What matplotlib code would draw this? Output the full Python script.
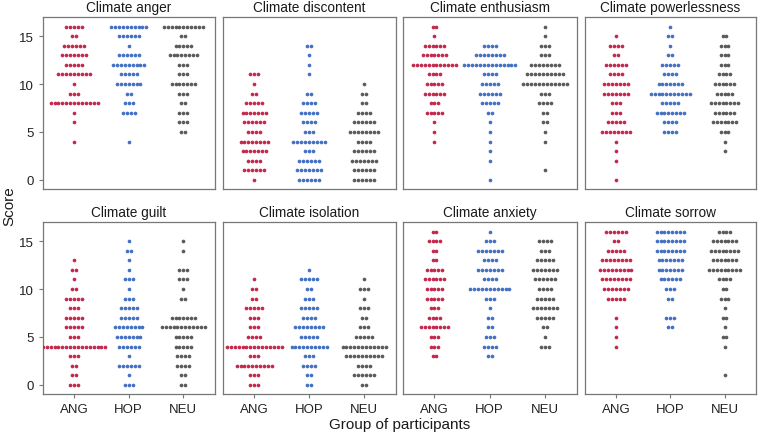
import numpy as np
import matplotlib
matplotlib.use("Agg")
import matplotlib.pyplot as plt

plt.rcParams["font.family"] = ["Liberation Sans", "DejaVu Sans"]

# groups and colours
groups = ["ANG", "HOP", "NEU"]
colors = ["#C3284D", "#4571C3", "#5B5B5B"]
scores = list(range(17))  # score 0..16

# number of participants at each score (index = score 0..16)
anger_ang = [0, 0, 0, 0, 1, 0, 1, 1, 13, 3, 1, 9, 5, 7, 6, 2, 5]
anger_hop = [0, 0, 0, 0, 1, 0, 0, 4, 3, 2, 7, 5, 9, 6, 1, 6, 10]
anger_neu = [0, 0, 0, 0, 0, 2, 3, 3, 2, 3, 7, 3, 3, 8, 5, 2, 11]

discontent_ang = [1, 6, 4, 7, 8, 4, 6, 7, 5, 2, 1, 3, 0, 0, 0, 0, 0]
discontent_hop = [6, 7, 6, 3, 9, 3, 4, 5, 4, 2, 0, 1, 1, 1, 2, 0, 0]
discontent_neu = [6, 6, 7, 6, 4, 8, 6, 4, 2, 2, 1, 0, 0, 0, 0, 0, 0]

enthusiasm_ang = [0, 0, 0, 0, 1, 1, 1, 5, 3, 6, 5, 4, 12, 7, 6, 1, 2]
enthusiasm_hop = [1, 0, 1, 1, 1, 1, 1, 2, 5, 6, 5, 4, 14, 8, 4, 0, 0]
enthusiasm_neu = [0, 1, 0, 0, 1, 1, 2, 2, 4, 3, 12, 10, 8, 3, 3, 1, 1]

powerless_ang = [1, 0, 1, 1, 1, 8, 5, 3, 3, 7, 7, 4, 6, 2, 4, 1, 0]
powerless_hop = [0, 0, 0, 0, 0, 4, 4, 8, 5, 11, 7, 4, 5, 2, 1, 2, 1]
powerless_neu = [0, 0, 0, 1, 1, 3, 7, 6, 8, 5, 6, 4, 3, 3, 3, 2, 0]

guilt_ang = [3, 2, 2, 3, 17, 3, 5, 5, 3, 5, 2, 1, 2, 1, 0, 0, 0]
guilt_hop = [3, 1, 6, 1, 6, 7, 8, 5, 5, 3, 1, 3, 1, 1, 2, 1, 0]
guilt_neu = [2, 2, 4, 4, 5, 5, 12, 7, 0, 2, 1, 3, 3, 0, 1, 1, 0]

isolation_ang = [3, 3, 10, 3, 15, 4, 3, 3, 5, 2, 2, 1, 0, 0, 0, 0, 0]
isolation_hop = [2, 2, 4, 3, 10, 5, 8, 4, 5, 3, 2, 5, 1, 0, 0, 0, 0]
isolation_neu = [2, 6, 4, 10, 12, 5, 3, 2, 3, 1, 3, 1, 0, 0, 0, 0, 0]

anxiety_ang = [0, 0, 0, 2, 3, 3, 8, 4, 3, 5, 5, 6, 5, 2, 2, 4, 2]
anxiety_hop = [0, 0, 0, 2, 4, 3, 2, 2, 1, 3, 11, 4, 7, 4, 7, 3, 1]
anxiety_neu = [0, 0, 0, 0, 3, 1, 2, 5, 7, 5, 4, 6, 7, 5, 3, 4, 0]

sorrow_ang = [0, 0, 0, 0, 1, 1, 1, 1, 0, 5, 7, 8, 9, 8, 5, 2, 6]
sorrow_hop = [0, 0, 0, 0, 0, 0, 2, 3, 0, 2, 3, 6, 7, 7, 8, 8, 8]
sorrow_neu = [0, 1, 0, 0, 1, 2, 1, 2, 1, 3, 2, 4, 9, 7, 8, 7, 4]

titles = ["Climate anger", "Climate discontent", "Climate enthusiasm", "Climate powerlessness",
          "Climate guilt", "Climate isolation", "Climate anxiety", "Climate sorrow"]
panels = [
    (anger_ang, anger_hop, anger_neu),
    (discontent_ang, discontent_hop, discontent_neu),
    (enthusiasm_ang, enthusiasm_hop, enthusiasm_neu),
    (powerless_ang, powerless_hop, powerless_neu),
    (guilt_ang, guilt_hop, guilt_neu),
    (isolation_ang, isolation_hop, isolation_neu),
    (anxiety_ang, anxiety_hop, anxiety_neu),
    (sorrow_ang, sorrow_hop, sorrow_neu),
]

W, H = 760, 435
fig = plt.figure(figsize=(W / 100, H / 100), dpi=100)

# panel boxes in pixels (left, right), rows (top, bottom)
cols_px = [(43, 215), (223, 396), (403, 577), (585, 756)]
rows_px = [(18, 190), (223, 395)]
step = 0.0716  # horizontal distance between dots, in x units
edge = "#777777"

for i, (title, counts) in enumerate(zip(titles, panels)):
    r, c = divmod(i, 4)
    x0, x1 = cols_px[c]
    y0, y1 = rows_px[r]
    ax = fig.add_axes([x0 / W, 1 - y1 / H, (x1 - x0) / W, (y1 - y0) / H])

    for g, (cnt, col) in enumerate(zip(counts, colors)):
        xs, ys = [], []
        for s, n in zip(scores, cnt):
            if n == 0:
                continue
            offs = (np.arange(n) - (n - 1) / 2) * step
            xs.extend(g + offs)
            ys.extend([s] * n)
        ax.scatter(xs, ys, s=7, color=col, linewidths=0, zorder=3)

    ax.set_xlim(-0.57, 2.58)
    ax.set_ylim(-0.95, 17.0)
    ax.set_title(title, fontsize=9.8, pad=4, color="#1a1a1a")
    for sp in ax.spines.values():
        sp.set_color(edge)
        sp.set_linewidth(0.9)

    ax.set_xticks(range(3))
    ax.set_yticks([0, 5, 10, 15])
    ax.tick_params(colors=edge, labelcolor="#222222", labelsize=9.5, length=3, width=0.8)
    if r == 1:
        ax.set_xticklabels(groups)
    else:
        ax.tick_params(axis="x", bottom=False, labelbottom=False)
    if c != 0:
        ax.tick_params(axis="y", left=False, labelleft=False)

fig.text((43 + 756) / 2 / W, 1 - 425 / H, "Group of participants", ha="center", va="center",
         fontsize=11, color="#1a1a1a")
fig.text(9 / W, 1 - 206 / H, "Score", ha="center", va="center", rotation=90,
         fontsize=11, color="#1a1a1a")

fig.savefig("out.png", dpi=100)
